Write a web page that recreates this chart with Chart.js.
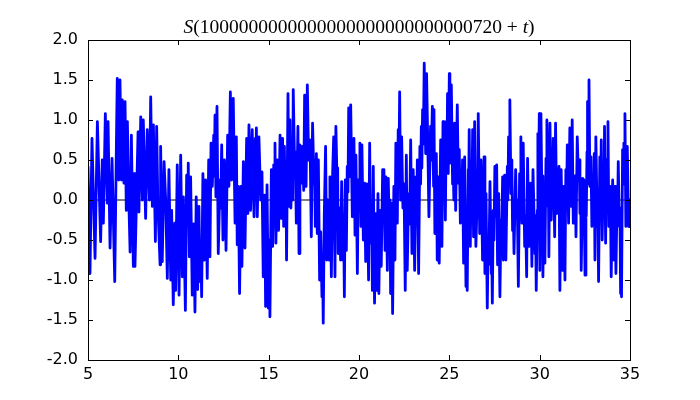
<!DOCTYPE html>
<html lang="en">
<head>
  <meta charset="UTF-8" />
  <title>S(t)</title>
  <script src="https://cdn.jsdelivr.net/npm/chart.js"></script>
  <style>
    body {
      margin: 0;
      background-color: #ffffff;
    }
    canvas {
      display: block;
    }
  </style>
</head>
<body>
  <canvas id="sChart" width="700" height="400"></canvas>

  <script>
    // t offsets from 5 to 35 and S values (peaks and troughs)
    const tValues = [
      5.00, 5.11, 5.22, 5.39, 5.52, 5.70, 5.79, 5.85, 5.96, 6.07, 6.11, 6.22, 6.33, 6.48, 6.57, 6.62, 6.70, 6.77, 6.85, 6.90, 6.99, 7.05, 7.12, 7.18, 7.25, 7.33, 7.40, 7.51,
      7.55, 7.60, 7.77, 7.82, 7.92, 8.01, 8.06, 8.19, 8.28, 8.40, 8.47, 8.56, 8.62, 8.73, 8.80, 8.87, 8.99, 9.02, 9.11, 9.21, 9.30, 9.39, 9.48, 9.58, 9.63, 9.72, 9.80, 9.85, 9.94, 10.04, 10.13, 10.22, 10.28,
      10.39, 10.46, 10.52, 10.55, 10.61, 10.68, 10.77, 10.85, 10.92, 10.99, 11.07, 11.14, 11.20, 11.24, 11.29, 11.36, 11.44, 11.51, 11.60, 11.68, 11.75, 11.81, 11.88, 11.96, 11.99, 12.03, 12.08, 12.14, 12.21, 12.31, 12.34, 12.40, 12.47, 12.55, 12.64, 12.73, 12.80, 12.88, 12.95, 13.04,
      13.14, 13.21, 13.26, 13.32, 13.39, 13.47, 13.52, 13.60, 13.69, 13.78, 13.85, 13.91, 14.00, 14.09, 14.19, 14.26, 14.29, 14.32, 14.37, 14.46, 14.56, 14.63, 14.70, 14.78, 14.83, 14.91, 14.98, 15.04, 15.07, 15.15, 15.22, 15.28, 15.31, 15.35, 15.40, 15.48, 15.55, 15.63, 15.70, 15.77, 15.83,
      15.87, 15.92, 15.96, 15.99, 16.07, 16.12, 16.18, 16.23, 16.29, 16.33, 16.36, 16.44, 16.47, 16.53, 16.62, 16.68, 16.73, 16.81, 16.86, 16.94, 16.99, 17.07, 17.14, 17.21, 17.29, 17.36, 17.43, 17.51, 17.54, 17.58, 17.64, 17.69, 17.75, 17.82, 17.88, 17.95, 17.99, 18.02, 18.08, 18.15, 18.21, 18.26, 18.34, 18.39, 18.47, 18.54, 18.60,
      18.67, 18.72, 18.80, 18.82, 18.85, 18.91, 18.98, 19.04, 19.11, 19.15, 19.19, 19.24, 19.30, 19.35, 19.39, 19.43, 19.48, 19.54, 19.63, 19.72, 19.78, 19.83, 19.91, 19.96, 20.00, 20.05, 20.11, 20.16, 20.24, 20.31, 20.37, 20.44, 20.48, 20.53, 20.59, 20.64, 20.70, 20.74, 20.79, 20.86, 20.92, 20.98, 21.05, 21.10, 21.16, 21.23, 21.31, 21.36,
      21.38, 21.44, 21.49, 21.57, 21.62, 21.68, 21.71, 21.75, 21.81, 21.86, 21.93, 21.99, 22.04, 22.12, 22.17, 22.21, 22.25, 22.30, 22.36, 22.43, 22.49, 22.56, 22.62, 22.67, 22.75, 22.80, 22.86, 22.93, 23.00, 23.08, 23.15, 23.19, 23.23, 23.30, 23.37, 23.41, 23.45, 23.48, 23.52, 23.56, 23.61, 23.69, 23.74, 23.82, 23.87, 23.96, 24.00, 24.06, 24.13,
      24.15, 24.20, 24.28, 24.33, 24.39, 24.44, 24.52, 24.59, 24.65, 24.70, 24.74, 24.78, 24.83, 24.87, 24.90, 24.94, 25.00, 25.03, 25.11, 25.18, 25.22, 25.25, 25.29, 25.35, 25.44, 25.50, 25.55, 25.61, 25.66, 25.70, 25.73, 25.79, 25.85, 25.92, 25.96, 25.99, 26.05, 26.07, 26.10, 26.16, 26.21, 26.25, 26.29, 26.34, 26.40, 26.47, 26.55, 26.57, 26.60, 26.68, 26.75, 26.84,
      26.92, 26.97, 27.03, 27.10, 27.15, 27.19, 27.25, 27.32, 27.34, 27.38, 27.43, 27.47, 27.52, 27.58, 27.62, 27.67, 27.73, 27.80, 27.86, 27.89, 27.95, 27.99, 28.06, 28.13, 28.21, 28.24, 28.28, 28.32, 28.35, 28.41, 28.46, 28.50, 28.54, 28.58, 28.67, 28.72, 28.76, 28.82, 28.89, 28.93, 28.96, 29.02, 29.09, 29.17, 29.22, 29.28, 29.33, 29.41, 29.50, 29.57, 29.63,
      29.74, 29.77, 29.81, 29.87, 29.90, 29.94, 29.98, 30.01, 30.07, 30.12, 30.14, 30.18, 30.24, 30.29, 30.35, 30.36, 30.40, 30.46, 30.48, 30.51, 30.57, 30.64, 30.70, 30.72, 30.75, 30.83, 30.88, 30.94, 30.97, 31.01, 31.07, 31.12, 31.19, 31.27, 31.34, 31.40, 31.45, 31.49, 31.53, 31.60, 31.67, 31.75, 31.80, 31.86, 31.90, 31.93, 31.97, 32.01, 32.08, 32.15, 32.19, 32.23, 32.27, 32.30, 32.38,
      32.45, 32.51, 32.56, 32.58, 32.62, 32.63, 32.67, 32.69, 32.73, 32.78, 32.84, 32.89, 32.95, 32.98, 33.02, 33.06, 33.11, 33.19, 33.22, 33.26, 33.33, 33.37, 33.41, 33.46, 33.52, 33.56, 33.59, 33.65, 33.70, 33.74, 33.78, 33.83, 33.91, 33.96, 34.04, 34.11, 34.17, 34.22, 34.29, 34.31, 34.35, 34.41, 34.44, 34.48, 34.50, 34.53, 34.59, 34.63, 34.66, 34.68, 34.72, 34.77, 34.85, 34.92, 34.98, 35.00
    ];

    const sValues = [
      0.42, -0.92, 0.77, -0.73, 0.98, -0.52, 0.50, -0.29, 1.08, -0.04, 0.98, -0.60, 0.52, -1.02, 0.67, 1.52, 0.25, 1.50, 0.25, 1.25, 0.21, 1.23, -0.13, 0.98, 0.08, -0.65, 0.81, -0.83,
      0.33, -0.83, 0.85, -0.15, 1.04, 0.00, 1.00, -0.23, 0.88, 0.00, 1.29, -0.08, 0.94, -0.52, 0.92, -0.08, -0.81, 0.67, -0.77, 0.48, 0.00, -0.98, 0.38, -1.00, -0.13, -1.31, -0.29, -1.13, 0.44, -1.19, 0.56, -0.96, 0.04,
      -1.38, 0.31, -0.30, 0.46, -0.71, 0.29, -1.19, -0.30, -1.40, 0.04, -1.12, -0.08, -1.02, -0.50, -1.21, 0.33, -0.75, 0.25, -0.98, 0.50, -0.71, 0.71, 0.17, 0.81, 0.30, 1.06, 0.04, 1.17, -0.67, 0.25, -0.10, 0.69, -0.50, 0.50, -0.63, 0.81, 0.17, 1.35, 0.25, 1.27,
      -0.29, 0.79, -0.56, 0.17, -1.17, 0.17, -0.83, 0.48, -0.60, 0.77, -0.17, 0.94, -0.13, 0.88, -0.21, 0.77, 0.30, 0.90, -0.21, 0.79, 0.00, 0.35, -0.96, 0.06, -1.33, 0.19, -1.35, -0.50, -1.46, 0.38, -0.58, 0.44, 0.10, 0.71, -0.54, 0.50, -0.38, 0.81, -0.23, 0.77, -0.33,
      0.67, -0.21, 0.20, -0.75, 1.33, -0.08, 1.00, -0.10, 0.50, 0.00, 1.38, 0.38, 0.60, -0.29, 0.92, -0.67, 0.69, 0.21, 0.67, 0.12, 1.31, 0.17, 1.44, 0.50, 0.75, -0.46, 0.96, 0.20, 0.50, -0.33, 0.58, -0.42, 0.50, -1.00, -0.40, -1.21, -0.90, -1.54, -0.17, 0.67, -0.75, 0.00, -0.75, 0.29, -0.96, 0.33, 0.79,
      -0.96, 0.92, 0.08, 0.40, -0.67, -0.10, -0.75, 0.23, -0.75, -0.30, -1.21, 0.25, -0.63, 0.42, 0.10, 1.15, 0.29, 1.19, -0.21, 0.77, -0.44, 0.56, -0.92, 0.25, -0.10, 0.71, -0.33, 0.69, -0.50, 0.21, -0.77, 0.20, -0.20, -1.00, 0.71, -0.54, -0.10, -1.13, 0.42, -1.29, -0.17, -1.13, 0.08, -1.17, -0.13, -0.83, 0.38, -0.20,
      0.38, -0.63, 0.29, -0.88, 0.27, -0.40, 0.00, -1.17, -0.04, -1.42, 0.17, -0.75, 0.71, -0.29, 0.88, 0.40, 1.35, 0.00, 0.79, -0.10, 0.20, -1.13, 0.56, -0.88, 0.08, -0.30, 0.75, -0.67, 0.38, -0.88, 0.29, -0.20, 0.50, -0.92, 0.67, 0.20, 0.92, 0.40, 1.13, 0.70, 1.71, 0.58, 1.58, 0.54, -0.21, 0.92, 0.50, 1.17, 0.17,
      1.13, -0.42, 0.58, -0.75, 0.29, -0.79, 0.75, -0.58, 0.98, 0.20, 0.50, -0.25, 0.98, 0.50, 1.33, 0.33, 1.58, 0.46, 1.44, 0.20, 0.40, 0.00, 0.96, -0.13, 1.19, 0.21, 0.63, -0.29, 0.25, 0.00, 0.50, -0.79, 0.54, -1.08, -0.60, -1.13, 0.38, 0.10, 0.88, -0.58, 0.29, 0.00, 0.88, -0.46, 0.98, -0.58, 0.08, -0.20, 1.08, -0.42, 0.50, -0.75,
      0.54, -0.92, 0.08, -1.35, -0.50, -0.80, 0.23, -0.92, -0.50, -1.29, -0.13, -0.50, 0.42, -0.20, 0.44, -0.81, 0.08, -1.21, -0.25, -0.60, 0.29, -0.75, 0.31, -0.75, 0.42, 0.00, 0.79, 0.30, 1.25, 0.08, 0.50, -0.38, -0.10, -0.67, 0.38, -0.20, 0.00, -1.08, 0.33, 0.00, 0.79, -0.29, 0.71, -0.58, -0.20, -0.96, 0.52, -0.58, 0.21, -0.83, 0.38,
      -0.67, -0.20, -1.13, -0.13, 0.83, 0.30, 1.08, -0.88, 1.08, 0.08, 0.30, -0.96, 0.08, -0.79, 0.52, 0.10, 1.00, -0.08, 0.30, -0.71, 0.96, -0.25, 0.42, 0.10, 0.77, -0.46, 0.96, -0.17, 0.30, 0.08, 0.42, -1.13, 0.38, -0.88, 0.17, -1.00, 0.38, 0.00, 0.69, -0.29, 0.90, -0.08, 1.00, -0.29, 0.20, -0.08, 0.30, -0.46, 0.79, 0.25, 0.50, -0.17, 0.20, -0.88, 0.27,
      0.25, -0.94, 0.17, -0.20, 0.60, 0.20, 1.23, 0.60, 1.50, 0.17, 0.54, -0.33, 0.00, -0.30, 0.58, -0.75, 0.79, -0.33, 0.00, -1.02, 0.54, 0.00, 0.75, -0.50, 0.25, -0.10, 0.92, -0.54, 0.50, 0.10, 0.98, -0.33, 0.17, -0.96, 0.25, -0.75, 0.17, -0.92, 0.08, -0.20, 0.48, -0.33, -0.10, -1.17, -0.60, -1.21, 0.63, 0.20, 0.71, 0.40, 1.08, -0.33, 0.67, -0.33, 0.00, -0.35
    ];

    const xTicks = [5, 10, 15, 20, 25, 30, 35];
    const yTicks = [-2.0, -1.5, -1.0, -0.5, 0.0, 0.5, 1.0, 1.5, 2.0];
    const baseLine = [0, 0];

    const sPoints = tValues.map((t, i) => ({ x: t, y: sValues[i] }));
    const zeroLine = [{ x: xTicks[0], y: baseLine[0] }, { x: xTicks[xTicks.length - 1], y: baseLine[1] }];

    // matplotlib-ish frame with inward ticks on all four sides
    const framePlugin = {
      id: 'frame',
      afterDraw(chart) {
        const { ctx, chartArea: a, scales } = chart;
        ctx.save();
        ctx.strokeStyle = '#000';
        ctx.lineWidth = 1;
        ctx.beginPath();
        xTicks.forEach(v => {
          const px = Math.round(scales.x.getPixelForValue(v)) + 0.5;
          ctx.moveTo(px, a.bottom); ctx.lineTo(px, a.bottom - 5);
          ctx.moveTo(px, a.top); ctx.lineTo(px, a.top + 5);
        });
        yTicks.forEach(v => {
          const py = Math.round(scales.y.getPixelForValue(v)) + 0.5;
          ctx.moveTo(a.left, py); ctx.lineTo(a.left + 5, py);
          ctx.moveTo(a.right, py); ctx.lineTo(a.right - 5, py);
        });
        ctx.stroke();
        ctx.strokeRect(Math.round(a.left) + 0.5, Math.round(a.top) + 0.5,
          Math.round(a.right - a.left), Math.round(a.bottom - a.top));
        ctx.restore();
      }
    };

    // title with italic S and t, like mathtext
    const titlePlugin = {
      id: 'mathTitle',
      afterDraw(chart) {
        const { ctx, chartArea: a } = chart;
        const size = 19.5;
        const roman = size + 'px "Liberation Serif", serif';
        const italic = 'italic ' + roman;
        const parts = [
          ['S', italic],
          ['(1000000000000000000000000000720', roman],
          [' + ', roman],
          ['t', italic],
          [')', roman]
        ];
        ctx.save();
        ctx.fillStyle = '#000';
        ctx.textBaseline = 'alphabetic';
        let total = 0;
        parts.forEach(p => { ctx.font = p[1]; total += ctx.measureText(p[0]).width; });
        let x = (a.left + a.right) / 2 - total / 2;
        parts.forEach(p => {
          ctx.font = p[1];
          ctx.fillText(p[0], x, 33);
          x += ctx.measureText(p[0]).width;
        });
        ctx.restore();
      }
    };

    const tickFont = { family: '"DejaVu Sans", sans-serif', size: 16 };

    new Chart(document.getElementById('sChart'), {
      type: 'line',
      data: {
        datasets: [
          {
            data: sPoints,
            borderColor: '#0000ff',
            borderWidth: 2.8,
            borderJoinStyle: 'round',
            pointRadius: 0,
            tension: 0,
            order: 0
          },
          {
            data: zeroLine,
            borderColor: '#000000',
            borderWidth: 1,
            pointRadius: 0,
            order: 1
          }
        ]
      },
      options: {
        responsive: false,
        animation: false,
        events: [],
        layout: { padding: { top: 40, right: 70, left: 0, bottom: 0 } },
        plugins: {
          legend: { display: false },
          tooltip: { enabled: false }
        },
        scales: {
          x: {
            type: 'linear',
            min: 5,
            max: 35,
            grid: { display: false },
            border: { display: false },
            afterBuildTicks: s => { s.ticks = xTicks.map(v => ({ value: v })); },
            afterFit: s => { s.height = 40; },
            ticks: { color: '#000', font: tickFont, padding: -3, maxRotation: 0 }
          },
          y: {
            type: 'linear',
            min: -2,
            max: 2,
            grid: { display: false },
            border: { display: false },
            afterBuildTicks: s => { s.ticks = yTicks.map(v => ({ value: v })); },
            afterFit: s => { s.width = 88; },
            ticks: {
              color: '#000',
              font: tickFont,
              padding: 2,
              callback: v => v.toFixed(1)
            }
          }
        }
      },
      plugins: [framePlugin, titlePlugin]
    });
  </script>
</body>
</html>
